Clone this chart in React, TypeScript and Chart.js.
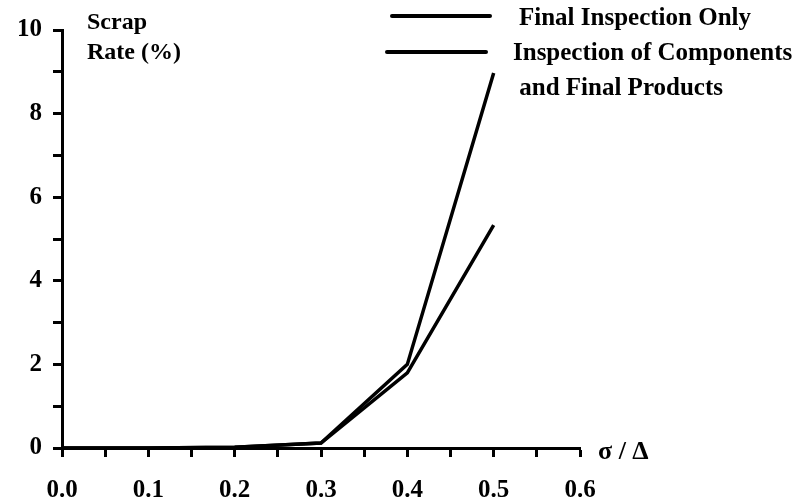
import React, { useEffect, useRef } from "react";
import { Chart, registerables } from "chart.js";

Chart.register(...registerables);

const xValues = [0.0, 0.1, 0.2, 0.3, 0.4, 0.5];
const finalOnly = [0, 0, 0.02, 0.12, 2.0, 8.97];
const componentsAndFinal = [0, 0, 0.02, 0.12, 1.8, 5.33];
const seriesLabels = ["Final Inspection Only", "Inspection of Components\n and Final Products"];
const yTitleLines = ["Scrap", "Rate (%)"];
const xTitle = "σ / Δ";

const FONT = "'Liberation Serif', 'Times New Roman', serif";

const overlayPlugin = {
  id: "overlay",
  afterDraw(chart: any) {
    const ctx = chart.ctx;
    const area = chart.chartArea;
    ctx.save();
    ctx.fillStyle = "#000";
    ctx.strokeStyle = "#000";
    ctx.textBaseline = "middle";
    ctx.textAlign = "left";
    ctx.font = `bold 24px ${FONT}`;
    yTitleLines.forEach((t, i) => ctx.fillText(t, area.left + 25, 23 + i * 30));
    ctx.font = `bold 26px ${FONT}`;
    ctx.fillText(xTitle, area.right + 18, area.bottom + 4);
    ctx.font = `bold 25px ${FONT}`;
    const legendRows = [
      { x1: 392, x2: 490, y: 16, tx: 519, ty: 19 },
      { x1: 387, x2: 486, y: 52, tx: 513, ty: 54 },
    ];
    chart.data.datasets.forEach((ds: any, i: number) => {
      const r = legendRows[i];
      ctx.lineWidth = 4;
      ctx.lineCap = "round";
      ctx.beginPath();
      ctx.moveTo(r.x1, r.y);
      ctx.lineTo(r.x2, r.y);
      ctx.stroke();
      String(ds.label)
        .split("\n")
        .forEach((t, j) => ctx.fillText(t, r.tx, r.ty + j * 35));
    });
    ctx.restore();
  },
};

export default function App() {
  const ref = useRef<HTMLCanvasElement | null>(null);
  useEffect(() => {
    if (!ref.current) return;
    const chart = new Chart(ref.current, {
      type: "line",
      data: {
        datasets: [
          {
            label: seriesLabels[0],
            data: xValues.map((x, i) => ({ x, y: finalOnly[i] })),
            borderColor: "#000",
            borderWidth: 3.5,
            pointRadius: 0,
            tension: 0,
          },
          {
            label: seriesLabels[1],
            data: xValues.map((x, i) => ({ x, y: componentsAndFinal[i] })),
            borderColor: "#000",
            borderWidth: 3.5,
            pointRadius: 0,
            tension: 0,
          },
        ],
      },
      options: {
        responsive: false,
        animation: false,
        layout: { padding: { top: 30, right: 229, left: 0, bottom: 0 } },
        plugins: { legend: { display: false }, tooltip: { enabled: false } },
        scales: {
          x: {
            type: "linear",
            min: 0,
            max: 0.6,
            border: { display: true, color: "#000", width: 3 },
            grid: { drawOnChartArea: false, color: "#000", tickLength: 9, tickWidth: 3 },
            ticks: {
              stepSize: 0.05,
              color: "#000",
              padding: 19,
              maxRotation: 0,
              autoSkip: false,
              font: { family: FONT, size: 25, weight: "bold" },
              callback: (v: any) => {
                const n = Math.round(Number(v) * 100);
                return n % 10 === 0 ? (n / 100).toFixed(1) : "";
              },
            },
            afterFit: (s: any) => {
              s.height = 53;
            },
          },
          y: {
            min: 0,
            max: 10,
            border: { display: true, color: "#000", width: 3 },
            grid: { drawOnChartArea: false, color: "#000", tickLength: 9, tickWidth: 3 },
            ticks: {
              stepSize: 1,
              color: "#000",
              padding: 11,
              autoSkip: false,
              font: { family: FONT, size: 25, weight: "bold" },
              callback: (v: any) => (Number(v) % 2 === 0 ? String(v) : ""),
            },
            afterFit: (s: any) => {
              s.width = 62;
            },
          },
        },
      },
      plugins: [overlayPlugin],
    } as any);
    return () => chart.destroy();
  }, []);
  return (
    <div style={{ position: "absolute", left: 0, top: 0, width: 809, height: 501, background: "#fff" }}>
      <canvas ref={ref} width={809} height={501} />
    </div>
  );
}
